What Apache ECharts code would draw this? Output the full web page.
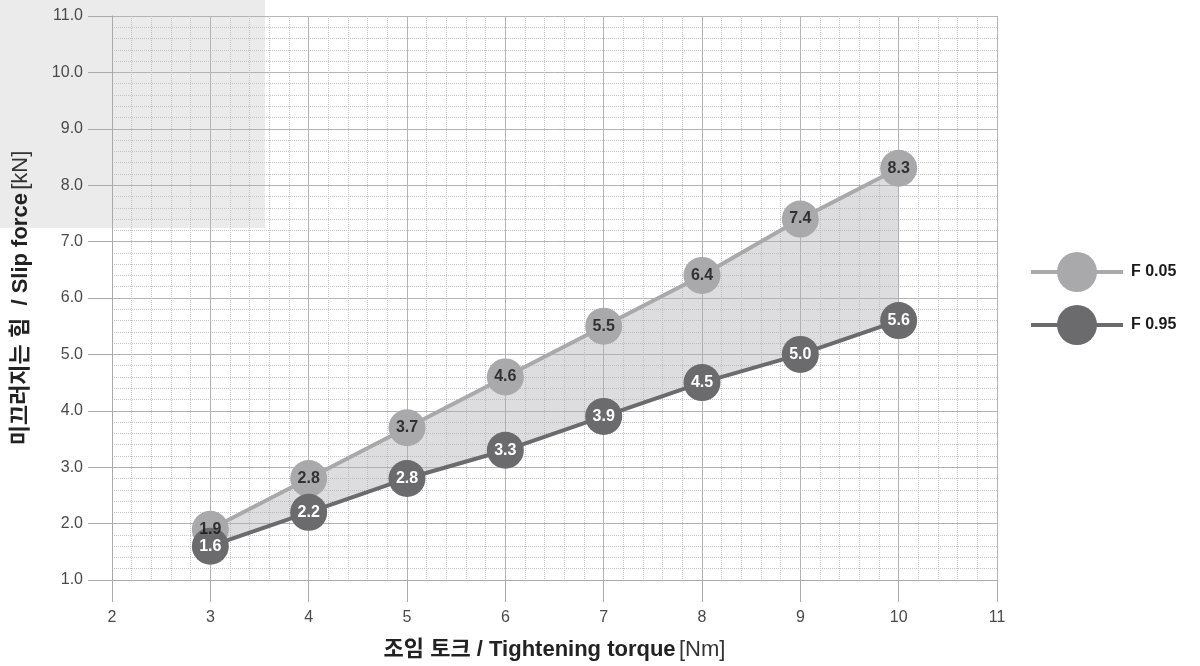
<!DOCTYPE html>
<html>
<head>
<meta charset="utf-8">
<script src="https://cdn.jsdelivr.net/npm/echarts@6/dist/echarts.min.js"></script>
<style>
  html, body { margin: 0; padding: 0; background: #fff; }
  #chart { width: 1200px; height: 666px; }
</style>
</head>
<body>
<div id="chart"></div>
<script>
// Data
var torque = [3, 4, 5, 6, 7, 8, 9, 10];
var f005 = [1.9, 2.8, 3.7, 4.6, 5.5, 6.4, 7.4, 8.3];
var f095 = [1.6, 2.2, 2.8, 3.3, 3.9, 4.5, 5.0, 5.6];
var seriesNames = ['F 0.05', 'F 0.95'];

var lightGrey = '#a9a9ab';
var darkGrey = '#6b6b6e';
var font = '"Liberation Sans", "Noto Sans CJK KR", Arial, sans-serif';

function pairs(vals) {
    return torque.map(function (x, i) { return [x, vals[i]]; });
}

// shaded band between the two curves
function renderBand(params, api) {
    if (params.dataIndex !== 0) return;
    var pts = [];
    torque.forEach(function (x, i) { pts.push(api.coord([x, f005[i]])); });
    for (var i = torque.length - 1; i >= 0; i--) pts.push(api.coord([torque[i], f095[i]]));
    return {
        type: 'polygon',
        shape: { points: pts },
        style: { fill: 'rgba(175,175,182,0.42)' }
    };
}

var labelStyle = {
    show: true,
    position: 'inside',
    fontWeight: 'bold',
    fontSize: 16,
    fontFamily: font,
    formatter: function (p) { return p.value[1].toFixed(1); }
};

var chart = echarts.init(document.getElementById('chart'));

option = {
    animation: false,
    textStyle: { fontFamily: font },
    graphic: [{
        type: 'rect',
        z: -10,
        shape: { x: 0, y: 0, width: 265, height: 228 },
        style: { fill: '#ebebeb' }
    }],
    grid: { left: 112, right: 203, top: 16, bottom: 85 },
    legend: {
        data: seriesNames,
        orient: 'vertical',
        left: 1024,
        top: 247,
        itemWidth: 92,
        itemHeight: 50,
        itemGap: 13,
        lineStyle: { width: 4 },
        textStyle: { fontFamily: font, fontWeight: 'bold', fontSize: 16, color: '#1a1a1a', padding: [0, 0, 0, 3] }
    },
    xAxis: {
        type: 'value',
        min: 2,
        max: 11,
        interval: 1,
        name: '{b|조임 토크 / Tightening torque} {r|[Nm]}',
        nameLocation: 'middle',
        nameGap: 59,
        nameTextStyle: {
            rich: {
                b: { fontFamily: font, fontWeight: 'bold', fontSize: 22, color: '#222' },
                r: { fontFamily: font, fontSize: 22, color: '#333' }
            }
        },
        axisLine: { show: true, lineStyle: { color: '#aaa', width: 1 } },
        axisTick: { show: true, inside: false, length: 22, lineStyle: { color: '#aaa' } },
        axisLabel: { margin: 30, fontSize: 16, color: '#4a4a4a', fontFamily: font },
        splitLine: { show: true, lineStyle: { color: '#b4b4b4', width: 1 } },
        minorTick: { show: false, splitNumber: 5 },
        minorSplitLine: { show: true, lineStyle: { color: '#c4c4c4', type: [1, 1], width: 1 } }
    },
    yAxis: {
        type: 'value',
        min: 1,
        max: 11,
        interval: 1,
        name: '{b|미끄러지는 힘  / Slip force} {r|[kN]}',
        nameLocation: 'middle',
        nameGap: 80,
        nameTextStyle: {
            rich: {
                b: { fontFamily: font, fontWeight: 'bold', fontSize: 22, color: '#222' },
                r: { fontFamily: font, fontSize: 22, color: '#333' }
            }
        },
        axisLine: { show: true, lineStyle: { color: '#aaa', width: 1 } },
        axisTick: { show: true, inside: false, length: 24, lineStyle: { color: '#aaa' } },
        axisLabel: {
            margin: 29, fontSize: 16, color: '#4a4a4a', fontFamily: font,
            formatter: function (v) { return v.toFixed(1); }
        },
        splitLine: { show: true, lineStyle: { color: '#b4b4b4', width: 1 } },
        minorTick: { show: false, splitNumber: 5 },
        minorSplitLine: { show: true, lineStyle: { color: '#c4c4c4', type: [1, 1], width: 1 } }
    },
    series: [
        {
            name: 'band',
            type: 'custom',
            renderItem: renderBand,
            data: pairs(f005),
            silent: true,
            z: 1
        },
        {
            name: seriesNames[0],
            type: 'line',
            data: pairs(f005),
            symbol: 'circle',
            symbolSize: 37,
            itemStyle: { color: lightGrey },
            lineStyle: { color: lightGrey, width: 4 },
            label: { show: false },
            z: 3
        },
        {
            name: seriesNames[1],
            type: 'line',
            data: pairs(f095),
            symbol: 'circle',
            symbolSize: 37,
            itemStyle: { color: darkGrey },
            lineStyle: { color: darkGrey, width: 4 },
            label: Object.assign({}, labelStyle, { color: '#fff' }),
            z: 4
        },
        {
            // labels of the upper curve, kept above the lower curve's circles
            name: 'f005-labels',
            type: 'scatter',
            data: pairs(f005),
            symbolSize: 1,
            itemStyle: { color: 'rgba(0,0,0,0)' },
            label: Object.assign({}, labelStyle, { color: '#111' }),
            silent: true,
            z: 6
        }
    ]
};

chart.setOption(option);
</script>
</body>
</html>
